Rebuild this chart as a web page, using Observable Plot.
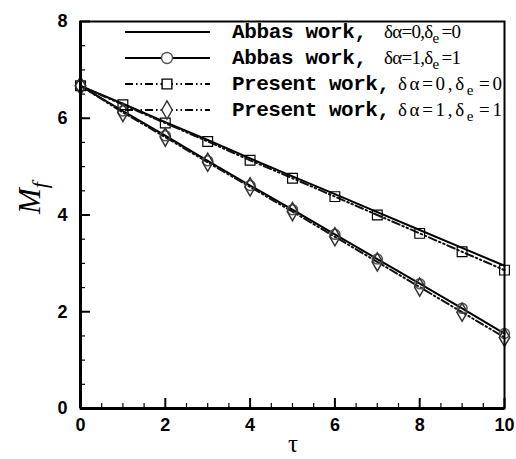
<!DOCTYPE html>
<html>
<head>
<meta charset="utf-8">
<script src="https://cdn.jsdelivr.net/npm/d3@7"></script>
<script src="https://cdn.jsdelivr.net/npm/@observablehq/plot@0.6"></script>
<style>
  html, body { margin: 0; padding: 0; background: #fff; }
  #chart svg { display: block; }
</style>
</head>
<body>
<div id="chart"></div>
<script>
// Dimensionless time
const tau = [0, 1, 2, 3, 4, 5, 6, 7, 8, 9, 10];

// Mf curves
const abbas0   = [6.67, 6.30, 5.92, 5.55, 5.17, 4.80, 4.43, 4.06, 3.69, 3.32, 2.95];
const abbas1   = [6.67, 6.15, 5.64, 5.12, 4.61, 4.11, 3.60, 3.09, 2.58, 2.07, 1.55];
const present0 = [6.67, 6.28, 5.90, 5.52, 5.13, 4.76, 4.38, 4.00, 3.62, 3.24, 2.86];
const present1 = [6.67, 6.12, 5.61, 5.09, 4.58, 4.07, 3.55, 3.03, 2.51, 1.99, 1.47];

// Axis ticks
const xMajor = [0, 2, 4, 6, 8, 10];
const xMinor = [0.5, 1, 1.5, 2.5, 3, 3.5, 4.5, 5, 5.5, 6.5, 7, 7.5, 8.5, 9, 9.5];
const yMajor = [0, 2, 4, 6, 8];
const yMinor = [0.5, 1, 1.5, 2.5, 3, 3.5, 4.5, 5, 5.5, 6.5, 7, 7.5];

const rows = (ys) => tau.map((t, i) => ({t, v: ys[i]}));

const presentDash = "8,3,1.5,3,1.5,3";

const W = 516, H = 459;
const mL = 80, mR = 12, mT = 21, mB = 51;
const innerW = W - mL - mR, innerH = H - mT - mB;

// inward ticks: full-span rules trimmed down to the tick length
const inTicksX = (data, len, w) =>
  Plot.ruleX(data, {x: (d) => d, insetTop: innerH - len, stroke: "#000", strokeWidth: w});
const inTicksY = (data, len, w) =>
  Plot.ruleY(data, {y: (d) => d, insetRight: innerW - len, stroke: "#000", strokeWidth: w});

const plot = Plot.plot({
  width: W,
  height: H,
  marginLeft: mL,
  marginRight: mR,
  marginTop: mT,
  marginBottom: mB,
  x: {domain: [0, 10]},
  y: {domain: [0, 8]},
  marks: [
    // tick labels
    Plot.axisX(xMajor, {tickSize: 0, tickPadding: 10, fontSize: 18, fontWeight: "bold",
      fontFamily: "Liberation Sans, Arial, sans-serif", fill: "#000", label: null}),
    Plot.axisY(yMajor, {tickSize: 0, tickPadding: 13, fontSize: 18, fontWeight: "bold",
      fontFamily: "Liberation Sans, Arial, sans-serif", fill: "#000", label: null}),
    // curves
    Plot.line(rows(abbas0), {x: "t", y: "v", stroke: "#000", strokeWidth: 2}),
    Plot.line(rows(abbas1), {x: "t", y: "v", stroke: "#000", strokeWidth: 2}),
    Plot.line(rows(present0), {x: "t", y: "v", stroke: "#111", strokeWidth: 2, strokeDasharray: presentDash}),
    Plot.line(rows(present1), {x: "t", y: "v", stroke: "#111", strokeWidth: 2, strokeDasharray: presentDash}),
    Plot.dot(rows(abbas1), {x: "t", y: "v", symbol: "circle", r: 5, stroke: "#555", strokeWidth: 1.5, fill: "none"}),
    Plot.dot(rows(present0), {x: "t", y: "v", symbol: "square", r: 5.5, stroke: "#000", strokeWidth: 1.2, fill: "none"}),
    Plot.dot(rows(present1), {x: "t", y: "v", symbol: "diamond", r: 5.5, stroke: "#333", strokeWidth: 1.5, fill: "none"}),
    // frame: heavier left and bottom axes
    Plot.frame({stroke: "#000", strokeWidth: 2}),
    Plot.ruleX([0], {stroke: "#000", strokeWidth: 3}),
    Plot.ruleY([0], {stroke: "#000", strokeWidth: 3}),
    // inward ticks on the bottom and left axes
    inTicksX(xMajor, 10, 2),
    inTicksX(xMinor, 5, 1.2),
    inTicksY(yMajor, 10, 2),
    inTicksY(yMinor, 5, 1.2)
  ]
});

document.getElementById("chart").append(plot);

const svg = d3.select(plot);

// axis titles
const yTitle = svg.append("text")
  .attr("transform", "translate(40,198) rotate(-90)")
  .attr("text-anchor", "middle")
  .attr("font-family", "Liberation Serif, Times New Roman, serif")
  .attr("font-style", "italic")
  .attr("font-size", 31)
  .attr("fill", "#000");
yTitle.append("tspan").text("M");
yTitle.append("tspan").attr("dy", 7).attr("font-size", 22).text("f");

svg.append("text")
  .attr("x", 293).attr("y", 452)
  .attr("text-anchor", "middle")
  .attr("font-family", "Liberation Serif, Times New Roman, serif")
  .attr("font-size", 25)
  .attr("fill", "#000")
  .text("τ");

// legend
const legend = [
  {name: "Abbas work,", a: "0", e: "0", dash: null, symbol: null, stroke: "#000"},
  {name: "Abbas work,", a: "1", e: "1", dash: null, symbol: d3.symbolCircle, stroke: "#555"},
  {name: "Present work,", a: "0", e: "0", dash: presentDash, symbol: d3.symbolSquare, stroke: "#000"},
  {name: "Present work,", a: "1", e: "1", dash: presentDash, symbol: d3.symbolDiamond, stroke: "#333"}
];

const lg = svg.append("g").attr("text-anchor", "start");
legend.forEach((d, i) => {
  const cy = 32 + i * 26;
  const longName = d.name.length > 11;
  lg.append("line")
    .attr("x1", 125).attr("x2", 210).attr("y1", cy).attr("y2", cy)
    .attr("stroke", "#000").attr("stroke-width", 2)
    .attr("stroke-dasharray", d.dash);
  if (d.symbol) {
    lg.append("path")
      .attr("transform", `translate(167,${cy})`)
      .attr("d", d3.symbol(d.symbol, Math.PI * 5.5 * 5.5)())
      .attr("fill", "#fff").attr("stroke", d.stroke).attr("stroke-width", 1.4);
  }
  lg.append("text")
    .attr("x", 232).attr("y", cy + 6)
    .attr("font-family", "Liberation Mono, Courier New, monospace")
    .attr("font-weight", "bold")
    .attr("font-size", 21)
    .attr("textLength", longName ? 158 : 135)
    .attr("lengthAdjust", "spacing")
    .attr("fill", "#000")
    .text(d.name);
  const t = lg.append("text")
    .attr("x", longName ? 398 : 384).attr("y", cy + 6)
    .attr("font-family", "Liberation Serif, Times New Roman, serif")
    .attr("font-size", 19)
    .attr("textLength", longName ? 104 : 77)
    .attr("lengthAdjust", "spacing")
    .attr("fill", "#000");
  t.append("tspan").text(`δα=${d.a},δ`);
  t.append("tspan").attr("dy", 5).attr("font-size", 15).text("e");
  t.append("tspan").attr("dy", -5).attr("dx", 3).text(`=${d.e}`);
});
</script>
</body>
</html>
